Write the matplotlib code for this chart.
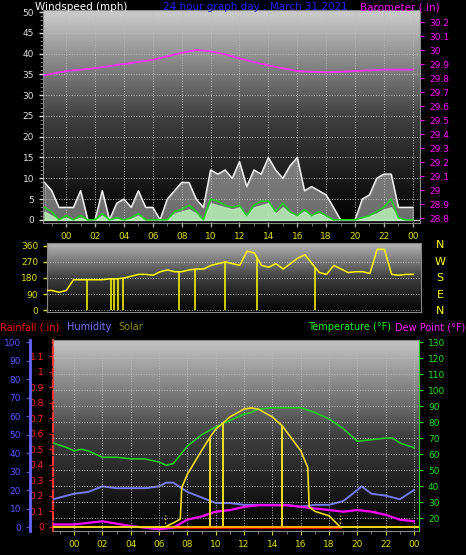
import numpy as np
import matplotlib
matplotlib.use("Agg")
import matplotlib.pyplot as plt
from matplotlib.colors import LinearSegmentedColormap

# ---------------- data ----------------
t_half = np.arange(-1.5, 24.01, 0.5)
wind_gust = [9,7,3,3,3,7,0,0,7,0,4,5,3,7,3,3,0,5,7,9,9,5,3,12,11,12,10,14,8,12,11,15,12,10,13,15,
             7,8,7,6,3,0,0,0,5,6,10,11,11,3,3,3]
wind_avg = [3,2,0,1,0,1,0,0,1.5,0,0.5,0,0.5,1.5,0,0,0,0,2,2.5,3.5,2,0,5,4.5,3.5,3,3.5,1,3.5,4.5,4.5,
            2,4,2,1,2.5,1,2,1,0,0,0,0,0.5,1,2,3,5,0.5,0,0]
wind_low = [2,1,0,0.5,0,0.5,0,0,1,0,0.3,0,0.3,1,0,0,0,0,1.5,2,2.5,1.5,0,4,3.5,3,2.5,3,1,3,3.5,4,
            1.5,3,1.5,1,2,1,1.5,1,0,0,0,0,0.3,1,1.5,2.5,3,0.5,0,0]

baro_t = [-1.5,0,2,4,6,8,9,10,11,12,14,16,18,20,22,24]
baro = [29.82,29.85,29.87,29.90,29.93,29.98,30.00,29.99,29.97,29.94,29.89,29.85,29.84,29.85,29.86,29.86]

wdir = [110,110,100,110,170,170,170,170,170,175,175,180,190,200,200,195,215,225,215,215,225,230,230,250,
        260,270,260,250,330,320,250,240,260,230,260,290,310,260,210,200,250,230,210,215,215,205,340,340,
        200,195,200,200]
wdir_drop_t = [1.4, 3.1, 3.3, 3.6, 3.9, 7.8, 8.9, 11.0, 13.2, 17.2]

temp_t = [-1.5,-0.5,0,0.5,1,2,3,4,5,6,6.5,7,8,9,10,11,12,12.5,13,14,15,16,17,18,19,20,21,22,22.5,23,24]
temp = [67,64,62,63,62,58,58,57,57,55,53,54,65,72,77,81,85,86,88,89,89,89,86,82,76,68,69,70,70,67,64]
hum_t = [-1.5,-1,0,1,2,3,4,5,6,6.5,7,8,9,10,11,12,13,14,15,16,17,18,19,20,20.3,21,22,23,24]
humidity = [15,16,18,19,22,21,21,21,22,24,24,19,16,13,13,12,12,12,12,11,12,12,14,20,22,18,17,15,20]
dew_t = [-1.5,0,2,4,6,7,8,9,10,11,12,13,14,15,16,17,18,19,20,21,22,23,24]
dewpoint = [16,16,18,15,13,14,19,21,24,25,27,28,28,28,27,26,25,24,25,24,22,19,18]
solar_t = [-1.5,6.4,7.0,7.5,7.6,8,9,9.6,10,11,12,12.5,13,14,14.7,15,16,16.5,16.6,17,18,18.8,24.3]
solar = [0,0,18,35,175,235,340,400,435,490,525,530,525,490,450,425,340,265,90,70,50,0,0]
solar_drop_t = [9.6, 10.5, 14.7]
rain_t = [6.5, 18.8]
rain = [0, 0]

hour_ticks = list(range(0, 25, 2))
hour_labels = ["%02d" % (h % 24) for h in hour_ticks]

# ---------------- figure ----------------
fig = plt.figure(figsize=(4.66, 5.55), dpi=100, facecolor="black")
FS = 6.5

def gradient(ax, top="#cfcfcf"):
    g = np.linspace(1, 0, 256).reshape(-1, 1)
    cm = LinearSegmentedColormap.from_list("g", ["#000000", "#404040", top])
    ax.imshow(g, cmap=cm, extent=[0, 1, 0, 1], transform=ax.transAxes, aspect="auto", zorder=0)

def style(ax):
    for s in ax.spines.values():
        s.set_color("#888888")
    ax.tick_params(colors="#aaaaaa", labelsize=FS, length=3, width=1)

# ---- top panel ----
ax1 = fig.add_axes([0.0923, 0.598, 0.809, 0.384])
gradient(ax1)
style(ax1)
ax1.set_xlim(-1.6, 24.5)
ax1.set_ylim(-0.8, 50.5)
ax1.fill_between(t_half, wind_gust, 0, color="#d8d8d8", alpha=0.5, zorder=2)
ax1.plot(t_half, wind_gust, color="#f2f2f2", lw=1.0, zorder=3)
ax1.fill_between(t_half, wind_low, 0, color="#b8f0b8", alpha=0.85, zorder=3)
ax1.plot(t_half, wind_avg, color="#22cc22", lw=1.2, zorder=4)
ax1.axhline(0, color="#cccccc", lw=1, zorder=2)
ax1.set_xticks(hour_ticks)
ax1.set_xticklabels(hour_labels, color="#dddd00")
ax1.set_xticks(np.arange(-1, 25, 1), minor=True)
ax1.set_yticks(range(0, 51, 5))
ax1.set_yticks(np.arange(0, 51, 1), minor=True)
ax1.tick_params(axis="y", colors="#dddddd")
ax1.tick_params(which="minor", colors="#888888", length=2)
ax1.grid(True, which="major", color="#bbbbbb", ls=":", lw=0.7, zorder=1)
ax1.set_axisbelow(False)
ax1b = ax1.twinx()
ax1b.set_ylim(28.764, 30.286)
ax1b.plot(baro_t, baro, color="#ff33ff", lw=1.3)
bt = np.round(np.arange(28.8, 30.21, 0.1), 1)
ax1b.set_yticks(bt)
ax1b.set_yticklabels(["%g" % v for v in bt])
ax1b.tick_params(axis="y", colors="#ff00ff", labelsize=FS, length=3)
for s in ax1b.spines.values():
    s.set_visible(False)

fig.text(35/466, 1-7/555, "Windspeed (mph)", color="white", fontsize=7.5, va="center")
fig.text(255/466, 1-7/555, "24 hour graph day : March 31 2021", color="#2222ff", fontsize=7.5, va="center", ha="center")
fig.text(440/466, 1-7/555, "Barometer (.in)", color="#ff00ff", fontsize=7.5, va="center", ha="right")

# ---- wind direction ----
ax2 = fig.add_axes([0.101, 0.438, 0.803, 0.124])
gradient(ax2, top="#b5b5b5")
style(ax2)
ax2.set_xlim(-1.33, 24.55)
ax2.set_ylim(-10, 375)
ax2.plot(t_half, wdir, color="#ffff00", lw=1.1, zorder=3)
for tt in wdir_drop_t:
    ax2.vlines(tt, 0, np.interp(tt, t_half, wdir), color="#ffff00", lw=1.1, zorder=3)
ax2.set_yticks([0, 90, 180, 270, 360])
ax2.tick_params(axis="y", colors="#dddd00")
ax2.set_xticks([])
ax2.grid(True, axis="y", color="#bbbbbb", ls=":", lw=0.7)
for i, c in enumerate("NWSEN"):
    fig.text(440/466, 1-(245+16.5*i)/555, c, color="#ffff00", fontsize=8, ha="center", va="center")

# ---- bottom panel ----
ax3 = fig.add_axes([0.114, 0.0432, 0.785, 0.344])
gradient(ax3, top="#c5c5c5")
ax3.set_xlim(-1.48, 24.35)
ax3.set_ylim(-0.026, 1.203)
for s in ax3.spines.values():
    s.set_color("#888888")
ax3.spines["left"].set_color("#ff3333")
ax3.spines["left"].set_linestyle("--")
ax3.spines["left"].set_linewidth(1.5)
rt = np.round(np.arange(0, 1.11, 0.1), 1)
ax3.set_yticks(rt)
ax3.set_yticklabels(["%g" % v for v in rt])
ax3.tick_params(axis="y", colors="#ff2222", labelsize=FS, length=3)
ax3.tick_params(axis="x", colors="#dddd00", labelsize=FS, length=3)
ax3.set_xticks(hour_ticks)
ax3.set_xticklabels(hour_labels)
ax3.set_xticks(np.arange(-1, 25, 1), minor=True)
ax3.tick_params(which="minor", axis="x", colors="#888888", length=2)
ax3.grid(True, axis="x", color="#bbbbbb", ls=":", lw=0.7)
ax3.plot(rain_t, rain, color="#ff0000", lw=2, zorder=6)

axh = ax3.twinx()
axh.yaxis.set_label_position("left")
axh.yaxis.tick_left()
axh.spines["left"].set_position(("axes", -0.063))
axh.spines["left"].set_color("#6666ff")
axh.spines["left"].set_linewidth(2)
for k in ("right", "top", "bottom"):
    axh.spines[k].set_visible(False)
axh.set_ylim(-2.16, 101.1)
axh.set_yticks(range(0, 101, 10))
axh.tick_params(axis="y", colors="#5555ff", labelsize=FS, length=3)
axh.plot(hum_t, humidity, color="#7777ee", lw=1.4, zorder=4)

axt = ax3.twinx()
for s in axt.spines.values():
    s.set_visible(False)
axt.spines["right"].set_visible(True)
axt.spines["right"].set_color("#33cc33")
axt.set_ylim(11.9, 131.25)
axt.set_yticks(range(20, 131, 10))
axt.tick_params(axis="y", colors="#22dd22", labelsize=FS, length=3)
axt.grid(True, axis="y", color="#bbbbbb", ls=":", lw=0.7)
axt.plot(temp_t, temp, color="#22cc22", lw=1.2, zorder=4)
axt.plot(dew_t, dewpoint, color="#ff00ff", lw=1.6, zorder=4)

axs = ax3.twinx()
axs.set_ylim(-17.8, 832)
axs.axis("off")
axs.plot(solar_t, solar, color="#eedd22", lw=1.2, zorder=5)
for tt in solar_drop_t:
    axs.vlines(tt, 0, np.interp(tt, solar_t, solar), color="#ffee22", lw=1.3)
axs.vlines([6.4, 18.8], 0, 55, color="#ffee22", lw=1, ls=":")
axs.axhline(0, color="#ffaa00", lw=1.5, zorder=4)

fig.text(0/466, 1-327/555, "Rainfall (.in)", color="#ff0000", fontsize=7, va="center")
fig.text(67/466, 1-327/555, "Humidity", color="#7777ff", fontsize=7, va="center")
fig.text(118/466, 1-327/555, "Solar", color="#888800", fontsize=7, va="center")
fig.text(391/466, 1-327/555, "Temperature (°F)", color="#22ee22", fontsize=7, va="center", ha="right")
fig.text(465/466, 1-327/555, "Dew Point (°F)", color="#ff22ff", fontsize=7, va="center", ha="right")

fig.savefig("out.png", dpi=100, facecolor="black")
